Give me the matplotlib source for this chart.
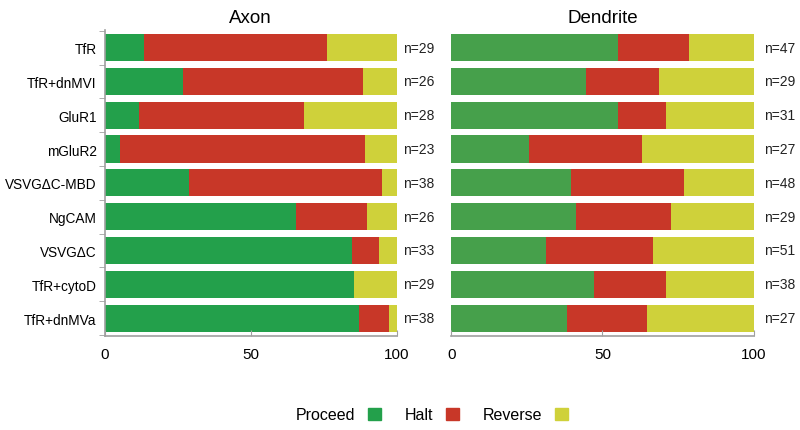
import matplotlib.pyplot as plt
import numpy as np
from matplotlib.patches import Patch

plt.rcParams["font.family"] = ["Liberation Sans", "DejaVu Sans"]

# categories and data (percent)
labels = ["TfR", "TfR+dnMVI", "GluR1", "mGluR2", "VSVGΔC-MBD", "NgCAM", "VSVGΔC", "TfR+cytoD", "TfR+dnMVa"]

axon_proceed = [13.5, 26.9, 11.8, 5.1, 29.0, 65.6, 84.8, 85.3, 86.9]
axon_halt = [62.6, 61.6, 56.4, 83.9, 65.9, 24.2, 9.1, 0.0, 10.5]
axon_n = [29, 26, 28, 23, 38, 26, 33, 29, 38]

dend_proceed = [55.0, 44.7, 55.0, 25.8, 39.5, 41.3, 31.4, 47.3, 38.3]
dend_halt = [23.6, 24.0, 15.9, 37.4, 37.5, 31.4, 35.2, 23.6, 26.5]
dend_n = [47, 29, 31, 27, 48, 29, 51, 38, 27]

green_l = "#23a04b"
green_r = "#46a04b"
red = "#c83728"
yellow = "#cfd13a"
grey = "#a0a0a0"

fig = plt.figure(figsize=(8, 4.31), dpi=100)
ax1 = fig.add_axes([0.131, 0.219, 0.365, 0.709])
ax2 = fig.add_axes([0.564, 0.219, 0.378, 0.709])

y = np.arange(len(labels))

for ax, pro, halt, n, gcol, title, nx in [
    (ax1, axon_proceed, axon_halt, axon_n, green_l, "Axon", 102),
    (ax2, dend_proceed, dend_halt, dend_n, green_r, "Dendrite", 103.5),
]:
    pro = np.array(pro)
    halt = np.array(halt)
    rev = 100 - pro - halt
    ax.barh(y, pro, height=0.8, color=gcol)
    ax.barh(y, halt, left=pro, height=0.8, color=red)
    ax.barh(y, rev, left=pro + halt, height=0.8, color=yellow)
    for yi, ni in zip(y, n):
        ax.text(nx, yi, "n=%d" % ni, va="center", ha="left", fontsize=10, color="#222222")
    ax.set_xlim(0, 100)
    ax.set_ylim(8.52, -0.52)
    ax.set_title(title, fontsize=13.5, pad=6)
    ax.set_xticks([0, 50, 100])
    ax.tick_params(axis="x", direction="in", length=4, color=grey, labelsize=11, pad=8)
    ax.spines["top"].set_visible(False)
    ax.spines["right"].set_visible(False)
    ax.spines["bottom"].set_color(grey)
    ax.spines["bottom"].set_linewidth(1.2)

ax1.set_yticks(y)
ax1.set_yticklabels(labels, fontsize=9.8)
ax1.tick_params(axis="y", length=0, pad=6)
ax1.set_yticks(np.arange(-0.5, 9, 1), minor=True)
ax1.tick_params(axis="y", which="minor", length=4, color=grey)
ax1.spines["left"].set_color(grey)
ax1.spines["left"].set_linewidth(1.2)

ax2.set_yticks([])
ax2.spines["left"].set_visible(False)

handles = [Patch(color=green_l), Patch(color=red), Patch(color=yellow)]
fig.legend(handles, ["Proceed", "Halt", "Reverse"], loc="center", bbox_to_anchor=(0.54, 0.035),
           ncol=3, frameon=False, markerfirst=False, fontsize=11.5, handlelength=0.8, handleheight=0.8,
           columnspacing=1.5, handletextpad=0.8)

fig.savefig("out.png", dpi=100)
